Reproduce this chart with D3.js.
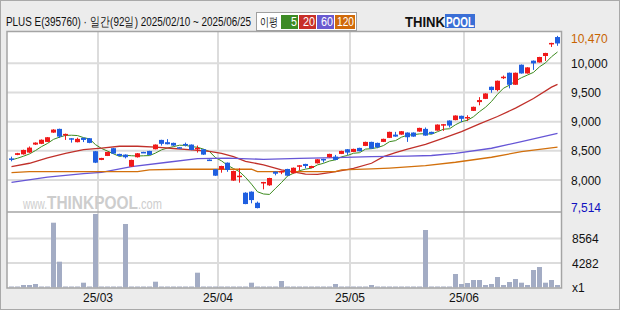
<!DOCTYPE html>
<html>
<head>
<meta charset="utf-8">
<script src="https://cdn.jsdelivr.net/npm/d3@7"></script>
<style>
  html, body { margin: 0; padding: 0; background: #ececec; }
  svg { display: block; }
  text { font-family: "Liberation Sans", "DejaVu Sans", sans-serif; }
</style>
</head>
<body>
<svg id="chart" width="620" height="310"></svg>
<script>
// --- Datos del gráfico ---
const dates = [
  "25/02/10","25/02/11","25/02/12","25/02/13","25/02/14","25/02/17","25/02/18","25/02/19","25/02/20","25/02/21",
  "25/02/24","25/02/25","25/02/26","25/02/27","25/02/28",
  "25/03/04","25/03/05","25/03/06","25/03/07","25/03/10","25/03/11","25/03/12","25/03/13","25/03/14","25/03/17",
  "25/03/18","25/03/19","25/03/20","25/03/21","25/03/24","25/03/25","25/03/26","25/03/27","25/03/28","25/03/31",
  "25/04/01","25/04/02","25/04/03","25/04/04","25/04/07","25/04/08","25/04/09","25/04/10","25/04/11","25/04/14",
  "25/04/15","25/04/16","25/04/17","25/04/18","25/04/21","25/04/22","25/04/23","25/04/24","25/04/25","25/04/28",
  "25/04/29","25/04/30",
  "25/05/02","25/05/07","25/05/08","25/05/09","25/05/12","25/05/13","25/05/14","25/05/15","25/05/16","25/05/19",
  "25/05/20","25/05/21","25/05/22","25/05/23","25/05/26","25/05/27","25/05/28","25/05/29","25/05/30",
  "25/06/02","25/06/04","25/06/05","25/06/09","25/06/10","25/06/11","25/06/12","25/06/13","25/06/16","25/06/17",
  "25/06/18","25/06/19","25/06/20","25/06/23","25/06/24","25/06/25"
];

const opens = [
  8370, 8430, 8440, 8470, 8607, 8620, 8653, 8812, 8876, 8768,
  8716, 8648, 8722, 8716, 8493, 8344, 8412, 8545, 8447, 8435,
  8229, 8390, 8481, 8498, 8527, 8687, 8648, 8636, 8562, 8618,
  8607, 8530, 8527, 8350, 8184, 8184, 8297, 7990, 8052, 7782,
  7800, 7610, 7954, 7909, 8143, 8145, 8189, 8115, 8240, 8275,
  8206, 8286, 8361, 8390, 8401, 8447, 8527, 8481, 8550, 8584,
  8653, 8636, 8653, 8722, 8778, 8778, 8813, 8813, 8830, 8876,
  8825, 8847, 8933, 9019, 9026, 9100, 9060, 9185, 9335, 9390,
  9598, 9541, 9748, 9838, 9632, 9976, 9826, 10045, 10015, 10125,
  10330, 10450
];
const highs = [
  8400, 8465, 8520, 8575, 8645, 8695, 8735, 8870, 8880, 8795,
  8718, 8725, 8725, 8720, 8497, 8380, 8485, 8550, 8450, 8438,
  8348, 8462, 8483, 8500, 8610, 8690, 8700, 8640, 8565, 8640,
  8610, 8590, 8530, 8352, 8188, 8244, 8300, 8160, 8200, 7790,
  7805, 7630, 7968, 8038, 8146, 8158, 8192, 8215, 8255, 8278,
  8244, 8358, 8364, 8450, 8430, 8502, 8530, 8537, 8553, 8657,
  8656, 8640, 8708, 8828, 8825, 8840, 8816, 8816, 8896, 8900,
  8828, 8953, 8960, 9022, 9108, 9103, 9110, 9258, 9420, 9487,
  9601, 9704, 9790, 9841, 9841, 9980, 9933, 10048, 10111, 10180,
  10352, 10470
];
const lows = [
  8320, 8425, 8435, 8465, 8600, 8615, 8650, 8808, 8720, 8687,
  8640, 8645, 8650, 8630, 8290, 8340, 8410, 8448, 8408, 8370,
  8225, 8385, 8468, 8425, 8525, 8590, 8610, 8585, 8548, 8575,
  8510, 8470, 8430, 8338, 8070, 8125, 8140, 7985, 7954, 7585,
  7600, 7514, 7840, 7900, 8080, 8100, 8070, 8110, 8160, 8200,
  8203, 8283, 8300, 8387, 8340, 8444, 8430, 8478, 8490, 8581,
  8535, 8545, 8650, 8719, 8741, 8775, 8653, 8741, 8827, 8758,
  8787, 8844, 8842, 8900, 9023, 8990, 9010, 9182, 9280, 9387,
  9495, 9520, 9730, 9570, 9629, 9823, 9823, 9887, 10012, 10040,
  10280, 10300
];
const closes = [
  8355, 8460, 8515, 8555, 8641, 8690, 8733, 8864, 8744, 8790,
  8705, 8705, 8687, 8636, 8297, 8378, 8481, 8452, 8412, 8390,
  8344, 8458, 8470, 8430, 8607, 8620, 8613, 8590, 8550, 8596,
  8515, 8550, 8435, 8340, 8074, 8240, 8172, 8155, 8074, 7588,
  7656, 7519, 7966, 8034, 8108, 8155, 8074, 8210, 8252, 8240,
  8240, 8355, 8344, 8447, 8344, 8498, 8470, 8533, 8493, 8653,
  8538, 8561, 8705, 8825, 8744, 8836, 8733, 8744, 8893, 8761,
  8790, 8950, 8957, 8933, 9105, 9048, 9080, 9254, 9370, 9483,
  9541, 9701, 9770, 9632, 9838, 9826, 9930, 9998, 10108, 10177,
  10349, 10340
];
// cierres anteriores al periodo, para la media de 5 días
const priorCloses = [8320, 8340, 8360, 8350];

const volumes = [
  175, 175, 437, 437, 612, 175, 175, 11325, 4509, 175,
  175, 175, 839, 175, 12846, 175, 175, 175, 175, 11098,
  175, 175, 175, 175, 1014, 175, 175, 175, 175, 175,
  175, 2587, 175, 175, 175, 175, 175, 175, 175, 175,
  839, 175, 175, 175, 175, 1136, 175, 175, 175, 175,
  175, 175, 175, 175, 612, 175, 175, 175, 175, 175,
  437, 175, 175, 175, 175, 175, 175, 175, 175, 10050,
  175, 175, 175, 175, 2360, 612, 787, 1311, 1311, 437,
  612, 1835, 437, 961, 1486, 839, 437, 3059, 3583, 839,
  1311, 437
];

// medias móviles largas: [índice de vela, valor]
const ma20Points = [
  [0, 8229], [3, 8287], [6, 8380], [9, 8458], [12, 8520], [15, 8548], [18, 8578], [21, 8578],
  [24, 8562], [27, 8540], [30, 8515], [33, 8490], [35, 8458], [37, 8400], [39, 8320], [42, 8258],
  [45, 8172], [47, 8140], [49, 8100], [51, 8097], [53, 8125], [55, 8160], [57, 8200], [60, 8287],
  [62, 8400], [64, 8470], [66, 8530], [69, 8610], [72, 8716], [75, 8830], [78, 8962], [81, 9088],
  [84, 9232], [87, 9397], [90, 9592], [91, 9640]
];
const ma60Points = [
  [0, 7960], [6, 8050], [12, 8110], [15, 8132], [20, 8229], [26, 8304], [31, 8366], [36, 8375],
  [42, 8355], [48, 8370], [54, 8385], [60, 8400], [66, 8410], [70, 8420], [74, 8458], [80, 8544],
  [85, 8658], [91, 8800]
];
const ma120Points = [
  [0, 8126], [3, 8143], [21, 8143], [23, 8172], [28, 8184], [40, 8184], [41, 8143], [54, 8143],
  [55, 8172], [60, 8189], [63, 8205], [69, 8246], [74, 8304], [80, 8390], [85, 8486], [91, 8562]
];

const priceTicks = [8000, 8500, 9000, 9500, 10000];
const volumeTicks = [4282, 8564];
const volumeMax = 12846;
const monthStarts = ["25/03/04", "25/04/01", "25/05/02", "25/06/02"];
const monthLabels = ["25/03", "25/04", "25/05", "25/06"];
const legendItems = ["5", "20", "60", "120"];

// --- Colores ---
const COLOR_UP = "#f01a1a";
const COLOR_DOWN = "#1f5fe0";
const COLOR_VOL = "#a3acc4";
const COLOR_GRID = "#dcdcdc";
const COLOR_BORDER = "#a4a4a4";
const MA_COLORS = ["#3d8b1f", "#c0302a", "#6656d6", "#d2700c"];
const LEGEND_COLORS = ["#3d8b25", "#c8302a", "#6a5ad0", "#d06a0a"];

const svg = d3.select("#chart");

/**
 * Comprime horizontalmente un texto (con una transformación) para que ocupe
 * como máximo el ancho dado, partiendo de su x.
 */
function fitWidth(textSel, width) {
  const node = textSel.node();
  const w = node.getComputedTextLength();
  if (w <= width) return textSel;
  const x0 = +textSel.attr("x");
  const k = width / w;
  textSel.attr("transform", `translate(${x0},0) scale(${k},1) translate(${-x0},0)`);
  return textSel;
}

// --- Marco general ---
svg.append("rect")
  .attr("x", 0.5).attr("y", 0.5).attr("width", 619).attr("height", 309)
  .attr("fill", "#ececec").attr("stroke", "#a9a9a9");

const plotLeft = 7, plotRight = 561.5;
const priceTop = 31.5, priceBottom = 212, volBottom = 288;

svg.append("rect")
  .attr("x", plotLeft).attr("y", priceTop)
  .attr("width", plotRight - plotLeft).attr("height", volBottom - priceTop)
  .attr("fill", "#ffffff");

// --- Escalas ---
const x = d3.scaleBand().domain(dates).range([8.5, 560.5]);
const cx = d => x(d) + x.bandwidth() / 2;
const y = d3.scaleLinear().domain([8000, 10000]).range([180, 63.3]);
const yVol = d3.scaleLinear().domain([0, volumeMax]).range([287.5, 214]);

// --- Cuadrícula ---
const grid = svg.append("g").attr("stroke", COLOR_GRID).attr("stroke-width", 2);
grid.selectAll(".hp").data(priceTicks).join("line")
  .attr("x1", plotLeft).attr("x2", plotRight)
  .attr("y1", d => y(d)).attr("y2", d => y(d));
grid.selectAll(".hv").data(volumeTicks).join("line")
  .attr("x1", plotLeft).attr("x2", plotRight)
  .attr("y1", d => yVol(d)).attr("y2", d => yVol(d));
grid.selectAll(".vm").data(monthStarts).join("line")
  .attr("x1", d => x(d) - 0.5).attr("x2", d => x(d) - 0.5)
  .attr("y1", priceTop).attr("y2", volBottom);

// --- Marca de agua ---
const wm = svg.append("g").attr("fill", "#cdcdcd");
fitWidth(wm.append("text").attr("x", 23).attr("y", 209).attr("font-size", 15).text("www."), 24);
fitWidth(wm.append("text").attr("x", 47).attr("y", 209).attr("font-size", 19)
  .attr("font-weight", "bold").text("THINKPOOL"), 91);
fitWidth(wm.append("text").attr("x", 138).attr("y", 209).attr("font-size", 15).text(".com"), 24);

// --- Volumen ---
svg.append("g").attr("fill", COLOR_VOL)
  .selectAll("rect").data(volumes).join("rect")
  .attr("x", (d, i) => cx(dates[i]) - 2.5)
  .attr("width", 5)
  .attr("y", d => yVol(d))
  .attr("height", d => Math.max(1, yVol(0) - yVol(d)));

// --- Medias móviles ---
const ma5Values = closes.map((c, i) => {
  const all = priorCloses.concat(closes);
  const win = all.slice(i, i + 5);
  return [i, d3.mean(win)];
});

const line = d3.line()
  .x(d => cx(dates[d[0]]))
  .y(d => y(d[1]));

const maSeries = [ma5Values, ma20Points, ma60Points, ma120Points];
svg.append("g").attr("fill", "none")
  .selectAll("path").data(maSeries).join("path")
  .attr("stroke", (d, i) => MA_COLORS[i])
  .attr("stroke-width", (d, i) => i === 0 ? 1 : 1.3)
  .attr("d", line);

// --- Velas ---
const candles = svg.append("g")
  .selectAll("g").data(dates).join("g")
  .attr("fill", (d, i) => closes[i] >= opens[i] ? COLOR_UP : COLOR_DOWN)
  .attr("stroke", (d, i) => closes[i] >= opens[i] ? COLOR_UP : COLOR_DOWN);

candles.append("line")
  .attr("x1", d => cx(d)).attr("x2", d => cx(d))
  .attr("y1", (d, i) => y(highs[i])).attr("y2", (d, i) => y(lows[i]))
  .attr("stroke-width", 1);

candles.append("rect")
  .attr("stroke", "none")
  .attr("x", d => cx(d) - 2.5)
  .attr("width", 5)
  .attr("y", (d, i) => y(Math.max(opens[i], closes[i])))
  .attr("height", (d, i) => Math.max(1.5, Math.abs(y(opens[i]) - y(closes[i]))));

// --- Bordes del área ---
svg.append("rect")
  .attr("x", plotLeft).attr("y", priceTop)
  .attr("width", plotRight - plotLeft).attr("height", volBottom - priceTop)
  .attr("fill", "none").attr("stroke", COLOR_BORDER).attr("stroke-width", 1.5);
svg.append("line")
  .attr("x1", plotLeft).attr("x2", plotRight)
  .attr("y1", priceBottom).attr("y2", priceBottom)
  .attr("stroke", COLOR_BORDER).attr("stroke-width", 1.5);

// --- Etiquetas del eje derecho ---
const fmt = d3.format(",");
const rightAxis = svg.append("g").attr("font-size", 12);
rightAxis.selectAll(".pl").data(priceTicks).join("text")
  .attr("x", 571).attr("y", d => y(d) + 4.5)
  .attr("fill", "#111").text(d => fmt(d));

const maxHigh = d3.max(highs), minLow = d3.min(lows);
rightAxis.append("text").attr("x", 571).attr("y", 42.5)
  .attr("fill", "#c86400").text(fmt(maxHigh));
rightAxis.append("text").attr("x", 571).attr("y", 212)
  .attr("fill", "#1010c0").text(fmt(minLow));

rightAxis.selectAll(".vl").data(volumeTicks).join("text")
  .attr("x", 572).attr("y", d => yVol(d) + 4.5)
  .attr("fill", "#111").text(d => d);
rightAxis.append("text").attr("x", 572).attr("y", 292)
  .attr("fill", "#111").text("x1");

// --- Eje de fechas ---
svg.append("g").attr("font-size", 12).attr("fill", "#111")
  .selectAll("text").data(monthStarts).join("text")
  .attr("x", d => x(d) - 0.5).attr("y", 302)
  .attr("text-anchor", "middle")
  .text((d, i) => monthLabels[i]);

// --- Cabecera ---
const title = svg.append("text")
  .attr("x", 6).attr("y", 26.5)
  .attr("font-size", 13)
  .attr("font-family", "'Noto Sans CJK KR', 'Liberation Sans', sans-serif")
  .attr("fill", "#111")
  .text(`PLUS E(395760) · 일간(${dates.length}일) 2025/02/10 ~ 2025/06/25`);
fitWidth(title, 244);

const legend = svg.append("g");
legend.append("rect")
  .attr("x", 256.5).attr("y", 12.5).attr("width", 100).attr("height", 18)
  .attr("fill", "#fff").attr("stroke", "#a0a0a0");
fitWidth(legend.append("text")
  .attr("x", 260).attr("y", 26.5).attr("font-size", 12)
  .attr("font-family", "'Noto Sans CJK KR', sans-serif")
  .attr("fill", "#111").text("이평"), 18);

const legendX = [281, 299, 317, 335];
const legendW = [17, 17, 17, 20];
const legendTextW = [6, 12, 12, 17];
legendItems.forEach((label, i) => {
  legend.append("rect")
    .attr("x", legendX[i]).attr("y", 15).attr("width", legendW[i]).attr("height", 14)
    .attr("fill", LEGEND_COLORS[i]);
  fitWidth(legend.append("text")
    .attr("x", legendX[i] + legendW[i] - 1 - legendTextW[i]).attr("y", 26.5)
    .attr("font-size", 12)
    .attr("fill", "#fff").text(label), legendTextW[i]);
});

// --- Logotipo ---
const logo = svg.append("g");
fitWidth(logo.append("text")
  .attr("x", 405).attr("y", 27.5)
  .attr("font-size", 15).attr("font-weight", "bold").attr("fill", "#111")
  .attr("font-family", "'DejaVu Sans', sans-serif")
  .text("THINK"), 40);
logo.append("rect")
  .attr("x", 445).attr("y", 14).attr("width", 30).attr("height", 14)
  .attr("fill", "#3b6fd6");
fitWidth(logo.append("text")
  .attr("x", 446).attr("y", 27)
  .attr("font-size", 15).attr("font-weight", "bold").attr("fill", "#fff")
  .attr("font-family", "'DejaVu Sans', sans-serif")
  .text("POOL"), 28);
</script>
</body>
</html>
